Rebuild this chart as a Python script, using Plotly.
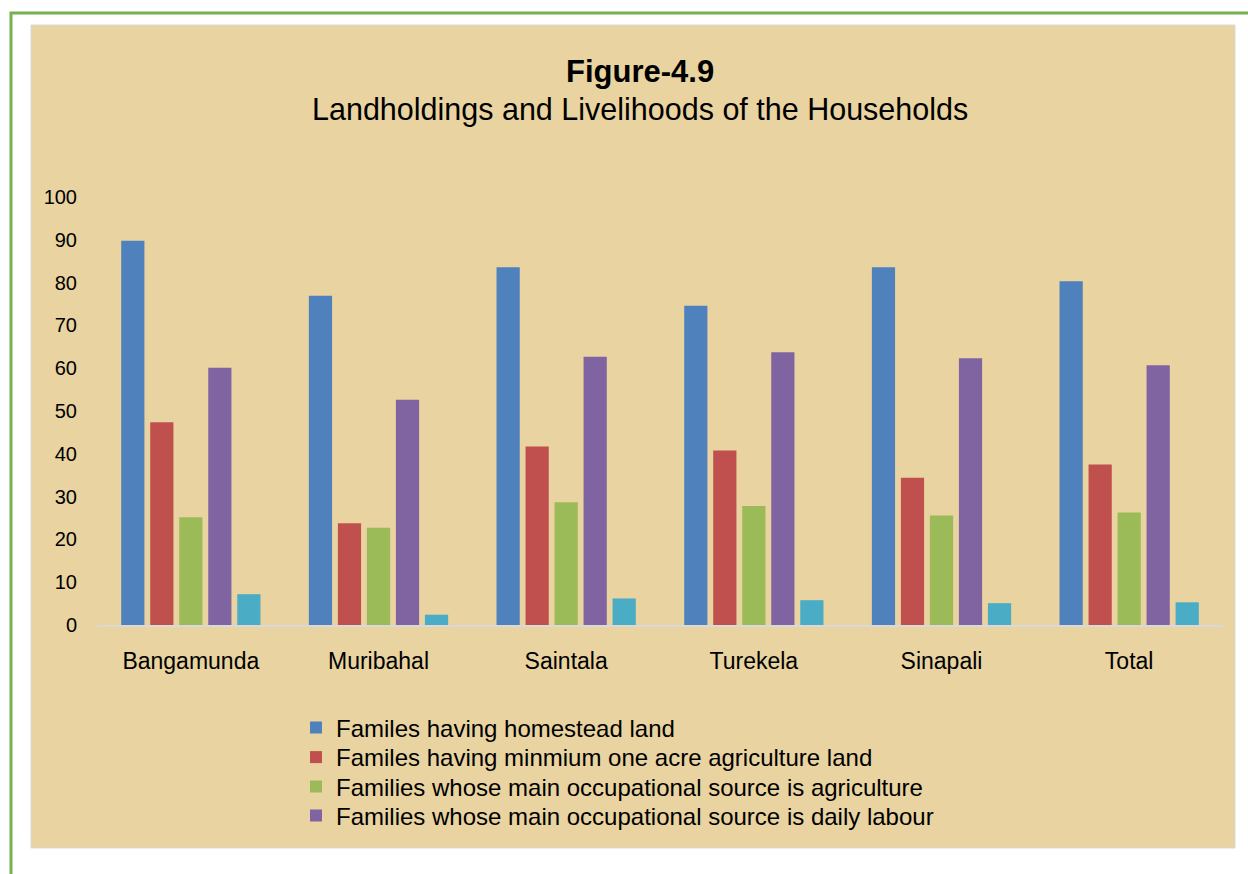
import plotly.graph_objects as go

categories = ["Bangamunda", "Muribahal", "Saintala", "Turekela", "Sinapali", "Total"]
homestead = [89.8, 76.9, 83.6, 74.6, 83.6, 80.3]
one_acre = [47.4, 23.8, 41.7, 40.8, 34.4, 37.5]
agriculture = [25.2, 22.7, 28.7, 27.8, 25.6, 26.3]
daily_labour = [60.1, 52.6, 62.7, 63.7, 62.3, 60.7]
other = [7.2, 2.4, 6.2, 5.8, 5.1, 5.3]
series_names = [
    "Familes having homestead land",
    "Familes having minmium one acre agriculture land",
    "Families whose main occupational source is agriculture",
    "Families whose main occupational source is daily labour",
    "Others",
]
y_ticks = list(range(0, 101, 10))

W, H = 1248, 874
L, R, T, B = 97, 25, 197, 249
PW, PH = W - L - R, H - T - B


def px_x(x):
    return (x - L) / PW


def px_y(y):
    return (H - B - y) / PH


FONT = "Liberation Sans, Arial, sans-serif"
colors = ["#4F81BD", "#C0504D", "#9BBB59", "#8064A2", "#4BACC6"]
values = [homestead, one_acre, agriculture, daily_labour, other]
legend_ids = ["legend", "legend2", "legend3", "legend4", "legend"]
legend_rows = [728, 757.5, 787, 816]

fig = go.Figure()
for i, (name, vals) in enumerate(zip(series_names, values)):
    fig.add_trace(go.Bar(
        x=categories, y=vals, name=name, legend=legend_ids[i],
        marker=dict(color=colors[i], line=dict(width=0)),
        showlegend=(i < 4),
    ))

legend_layout = {}
for k, row in enumerate(legend_rows):
    key = "legend" if k == 0 else f"legend{k + 1}"
    legend_layout[key] = dict(
        x=px_x(296), y=px_y(row), xanchor="left", yanchor="middle",
        bgcolor="rgba(0,0,0,0)", font=dict(size=24),
    )

fig.update_layout(
    width=W, height=H,
    margin=dict(l=L, r=R, t=T, b=B, pad=0),
    paper_bgcolor="white",
    plot_bgcolor="rgba(0,0,0,0)",
    barmode="group",
    bargap=0.227,
    bargroupgap=0.2,
    font=dict(family=FONT, size=24, color="black"),
    xaxis=dict(
        showgrid=False, zeroline=False, showline=True,
        linecolor="#D9D9D9", linewidth=2, ticks="",
        tickfont=dict(size=23), ticklabelstandoff=14,
    ),
    yaxis=dict(
        range=[0, 100], tickvals=y_ticks, showgrid=False, zeroline=False,
        showline=False, ticks="", tickfont=dict(size=20),
        ticklabelstandoff=19,
    ),
    showlegend=True,
    shapes=[
        dict(type="rect", xref="paper", yref="paper",
             x0=px_x(11), x1=px_x(1262), y0=px_y(888), y1=px_y(13),
             line=dict(color="#77B150", width=3), fillcolor="rgba(0,0,0,0)",
             layer="below"),
        dict(type="rect", xref="paper", yref="paper",
             x0=px_x(31), x1=px_x(1235), y0=px_y(848), y1=px_y(25),
             line=dict(color="#D9D9D9", width=1), fillcolor="#E9D3A0",
             layer="below"),
    ],
    annotations=[
        dict(text="<b>Figure-4.9</b>", xref="paper", yref="paper",
             x=px_x(640), y=px_y(72), xanchor="center", yanchor="middle",
             showarrow=False, font=dict(size=31)),
        dict(text="Landholdings and Livelihoods of the Households",
             xref="paper", yref="paper",
             x=px_x(640), y=px_y(110), xanchor="center", yanchor="middle",
             showarrow=False, font=dict(size=30.5)),
    ],
    **legend_layout,
)

fig.write_html("out.html")
